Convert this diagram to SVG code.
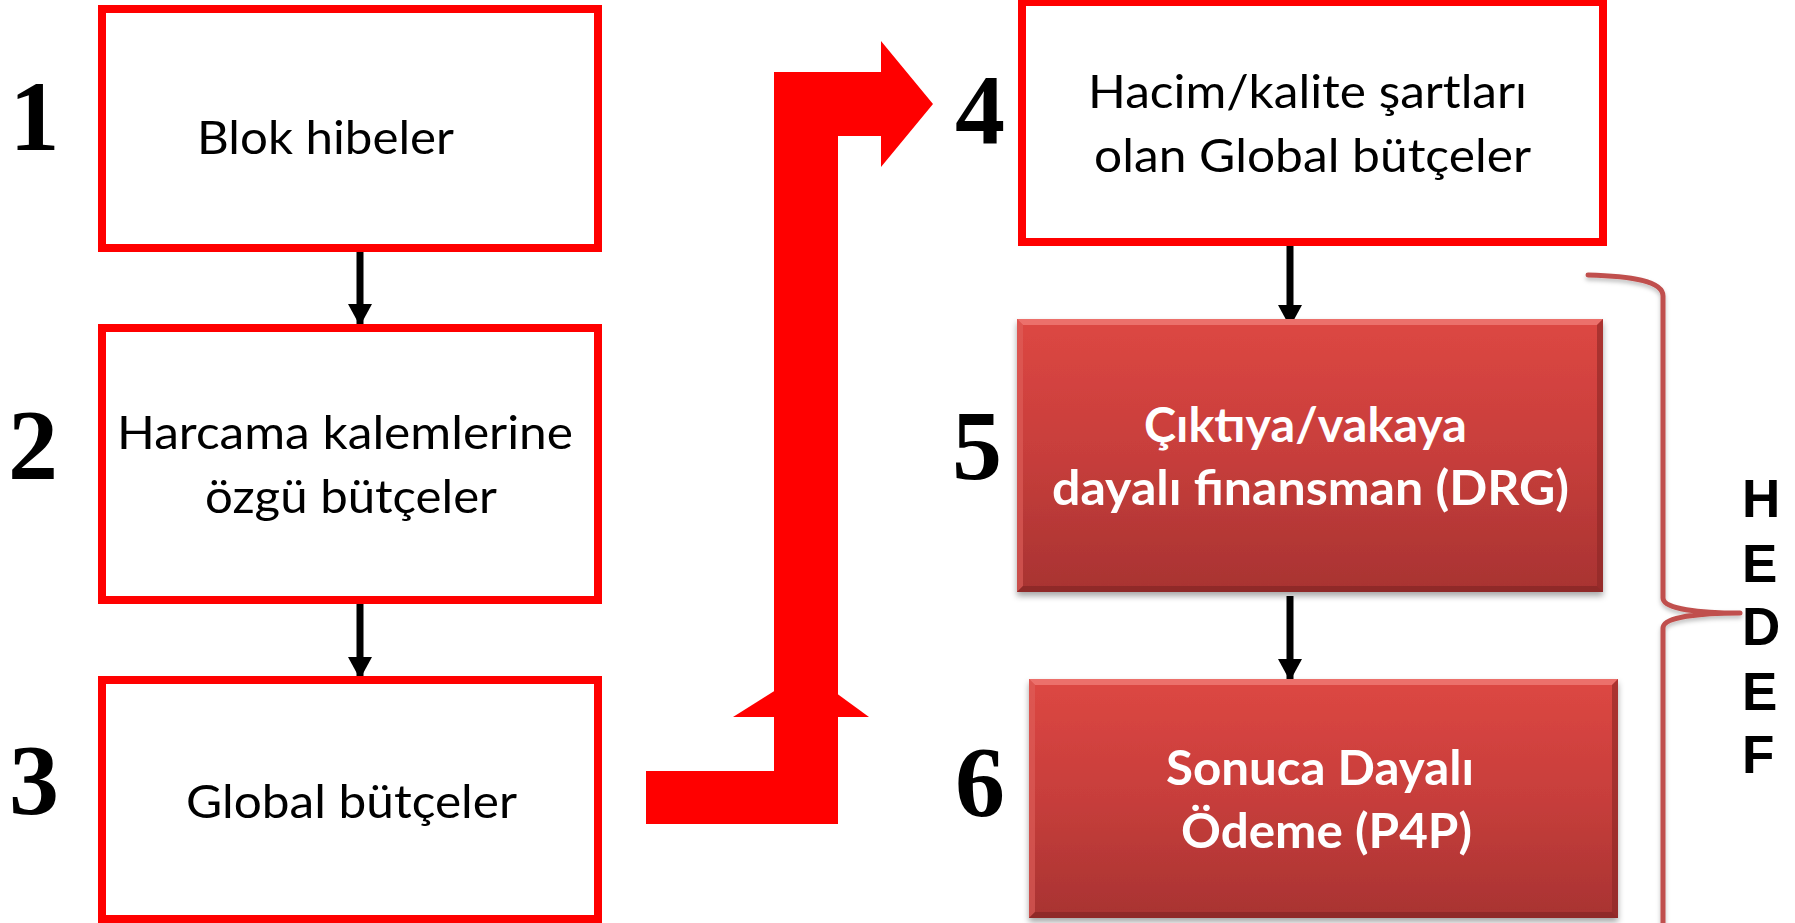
<svg xmlns="http://www.w3.org/2000/svg" width="1795" height="923" viewBox="0 0 1795 923">
<defs>
<style>
.box{fill:#ffffff;stroke:#ff0000;stroke-width:8}
.num{font-family:"Liberation Serif","Times New Roman",serif;font-weight:bold;font-size:100px;fill:#000;text-anchor:middle}
.t{font-family:Lato,"Open Sans",sans-serif;font-size:47px;fill:#000}
.tw{font-family:Lato,"Open Sans",sans-serif;font-size:47px;font-weight:bold;fill:#fff}
.hed{font-family:"Liberation Sans",Arial,sans-serif;font-weight:bold;font-size:53px;fill:#000}
.conn{stroke:#000;stroke-width:7;fill:none;marker-end:url(#ah)}
.big{fill:#ff0000}
.brace{fill:none;stroke:#c0504d;stroke-width:5;stroke-linecap:round;stroke-linejoin:round}
</style>
<marker id="ah" markerUnits="userSpaceOnUse" markerWidth="24" markerHeight="24" refX="22" refY="12" orient="auto">
<path d="M0,0 L22,12 L0,24 z" fill="#000"/>
</marker>
<linearGradient id="rg" x1="0" y1="0" x2="0" y2="1">
<stop offset="0" stop-color="#dd4743"/>
<stop offset="0.5" stop-color="#c73e3b"/>
<stop offset="1" stop-color="#a83332"/>
</linearGradient>
<filter id="sh" x="-5%" y="-5%" width="110%" height="115%">
<feDropShadow dx="0" dy="4" stdDeviation="3" flood-color="#000" flood-opacity="0.35"/>
</filter>
<filter id="bsh" x="-20%" y="-5%" width="140%" height="110%">
<feDropShadow dx="0" dy="3" stdDeviation="2" flood-color="#000" flood-opacity="0.25"/>
</filter>
</defs>
<g id="connectors">
<line class="conn" x1="360" y1="252" x2="360" y2="326"/>
<line class="conn" x1="360" y1="604" x2="360" y2="679"/>
<line class="conn" x1="1290" y1="246" x2="1290" y2="327"/>
<line class="conn" x1="1290" y1="596" x2="1290" y2="681"/>
<g id="big-arrow">
<polygon class="big" points="733,717 869,717 806,671"/>
<polygon class="big" points="646,771 774,771 774,72 881,72 881,41 933,104 881,167 881,136 838,136 838,824 646,824"/>
</g>
</g>
<g id="node1">
<rect class="box" x="102" y="9" width="496" height="239"/>
<text class="num" x="34.5" y="150">1</text>
<text class="t" x="197" y="154" textLength="257" lengthAdjust="spacingAndGlyphs">Blok hibeler</text>
</g>
<g id="node2">
<rect class="box" x="102" y="328" width="496" height="272"/>
<text class="num" x="33" y="478">2</text>
<text class="t" x="117" y="449" textLength="456" lengthAdjust="spacingAndGlyphs">Harcama kalemlerine</text>
<text class="t" x="205" y="513" textLength="292" lengthAdjust="spacingAndGlyphs">özgü bütçeler</text>
</g>
<g id="node3">
<rect class="box" x="102" y="680" width="496" height="239"/>
<text class="num" x="34" y="813">3</text>
<text class="t" x="186" y="818" textLength="331" lengthAdjust="spacingAndGlyphs">Global bütçeler</text>
</g>
<g id="node4">
<rect class="box" x="1022" y="2" width="581" height="240"/>
<text class="num" x="980" y="143">4</text>
<text class="t" x="1088" y="108" textLength="439" lengthAdjust="spacingAndGlyphs">Hacim/kalite şartları</text>
<text class="t" x="1094" y="172" textLength="437" lengthAdjust="spacingAndGlyphs">olan Global bütçeler</text>
</g>
<g id="node5">
<g filter="url(#sh)">
<rect x="1017" y="319" width="586" height="273" fill="url(#rg)"/>
</g>
<polygon points="1017,319 1603,319 1597,325 1023,325" fill="#f07a76" opacity="0.8"/>
<polygon points="1017,319 1023,325 1023,586 1017,592" fill="#e0605c" opacity="0.6"/>
<polygon points="1603,319 1603,592 1597,586 1597,325" fill="#8a2624" opacity="0.6"/>
<polygon points="1017,592 1603,592 1597,586 1023,586" fill="#7e2321" opacity="0.6"/>
<text class="num" x="977" y="479">5</text>
<text class="tw" x="1144" y="442" textLength="323" lengthAdjust="spacingAndGlyphs">Çıktıya/vakaya</text>
<text class="tw" x="1052" y="505" textLength="517" lengthAdjust="spacingAndGlyphs">dayalı finansman (DRG)</text>
</g>
<g id="node6">
<g filter="url(#sh)">
<rect x="1029" y="679" width="589" height="239" fill="url(#rg)"/>
</g>
<polygon points="1029,679 1618,679 1612,685 1035,685" fill="#f07a76" opacity="0.8"/>
<polygon points="1029,679 1035,685 1035,912 1029,918" fill="#e0605c" opacity="0.6"/>
<polygon points="1618,679 1618,918 1612,912 1612,685" fill="#8a2624" opacity="0.6"/>
<polygon points="1029,918 1618,918 1612,912 1035,912" fill="#7e2321" opacity="0.6"/>
<text class="num" x="980" y="815">6</text>
<text class="tw" x="1166" y="785" textLength="308" lengthAdjust="spacingAndGlyphs">Sonuca Dayalı</text>
<text class="tw" x="1181" y="848" textLength="291" lengthAdjust="spacingAndGlyphs">Ödeme (P4P)</text>
</g>
<g id="hedef">
<path class="brace" filter="url(#bsh)" d="M1588,275 C1630,276 1663,281 1663,296 L1663,598 C1663,609 1700,613 1740,613 C1700,613 1663,617 1663,628 L1663,930"/>
<text class="hed" x="1742" y="517">H</text>
<text class="hed" x="1742" y="582">E</text>
<text class="hed" x="1742" y="645">D</text>
<text class="hed" x="1742" y="710">E</text>
<text class="hed" x="1742" y="773">F</text>
</g>
</svg>
